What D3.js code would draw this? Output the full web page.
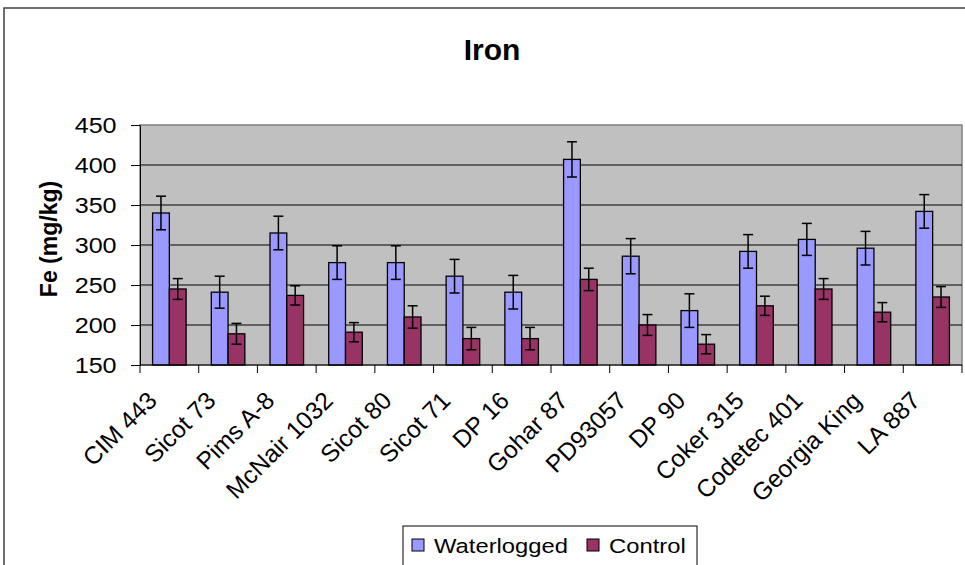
<!DOCTYPE html>
<html>
<head>
<script type='text/javascript' src='https://d3js.org/d3.v7.min.js'></script>
</head>
<body style="margin:0">
<script>
var width = 965, height = 565;

// the data
var cultivars = ["CIM 443", "Sicot 73", "Pims A-8", "McNair 1032", "Sicot 80", "Sicot 71", "DP 16", "Gohar 87", "PD93057", "DP 90", "Coker 315", "Codetec 401", "Georgia King", "LA 887"];
var waterlogged = [340, 241, 315, 278, 278, 261, 241, 407, 286, 218, 292, 307, 296, 342];
var waterloggedErr = [21, 20, 21, 21, 21, 21, 21, 22, 22, 21, 21, 20, 21, 21];
var control = [245, 189, 237, 191, 210, 183, 183, 257, 200, 176, 224, 245, 216, 235];
var controlErr = [13, 13, 12, 12, 14, 14, 14, 14, 13, 12, 12, 13, 12, 13];
var yTicks = [150, 200, 250, 300, 350, 400, 450];
var seriesNames = ["Waterlogged", "Control"];
var colors = ["#9999FF", "#993366"];

var svg = d3.select('body').append('svg').attr('width', width).attr('height', height)
  .style('display', 'block')
  .style('font-family', 'Liberation Sans, Arial, sans-serif');

svg.append('rect').attr('width', width).attr('height', height).attr('fill', 'white');
// outer chart border (runs off the right and bottom)
svg.append('rect').attr('x', 4).attr('y', 8).attr('width', width + 10).attr('height', height + 10)
  .attr('fill', 'none').attr('stroke', '#404040').attr('stroke-width', 1.5);

// plot area edges
var pLeft = 140, pRight = 962, pTop = 125, pBottom = 365;

var x = d3.scaleBand().domain(cultivars).range([pLeft, pRight]).padding(0);
var y = d3.scaleLinear().domain([150, 450]).range([pBottom, pTop]);
var bw = x.step() / 3.5; // excel gap width 150%

// plot area
svg.append('rect').attr('x', pLeft).attr('y', pTop).attr('width', pRight - pLeft).attr('height', pBottom - pTop)
  .attr('fill', '#C0C0C0').attr('stroke', '#808080').attr('stroke-width', 1.5);

// gridlines
svg.append('g').selectAll('line').data(yTicks.filter(function(d) { return d > 150 && d < 450; }))
  .join('line')
  .attr('x1', pLeft).attr('x2', pRight)
  .attr('y1', function(d) { return y(d); }).attr('y2', function(d) { return y(d); })
  .attr('stroke', 'black').attr('stroke-width', 1);

// bars + error bars
var series = [
  {name: seriesNames[0], vals: waterlogged, err: waterloggedErr, color: colors[0], off: 0},
  {name: seriesNames[1], vals: control, err: controlErr, color: colors[1], off: 1}
];
series.forEach(function(s) {
  var g = svg.append('g');
  var bx = function(d, i) { return x(cultivars[i]) + 0.75 * bw + s.off * bw; };
  g.selectAll('rect').data(s.vals).join('rect')
    .attr('x', bx)
    .attr('y', function(d) { return y(d); })
    .attr('width', bw)
    .attr('height', function(d) { return pBottom - y(d); })
    .attr('fill', s.color).attr('stroke', 'black').attr('stroke-width', 1.3);
  var eg = g.selectAll('g.err').data(s.vals).join('g').attr('class', 'err');
  eg.append('line')
    .attr('x1', function(d, i) { return bx(d, i) + bw / 2; })
    .attr('x2', function(d, i) { return bx(d, i) + bw / 2; })
    .attr('y1', function(d, i) { return y(d + s.err[i]); })
    .attr('y2', function(d, i) { return y(d - s.err[i]); });
  [1, -1].forEach(function(sign) {
    eg.append('line')
      .attr('x1', function(d, i) { return bx(d, i) + bw / 2 - 5; })
      .attr('x2', function(d, i) { return bx(d, i) + bw / 2 + 5; })
      .attr('y1', function(d, i) { return y(d + sign * s.err[i]); })
      .attr('y2', function(d, i) { return y(d + sign * s.err[i]); });
  });
  eg.selectAll('line').attr('stroke', 'black').attr('stroke-width', 1.5);
});

// y axis
var yAxis = svg.append('g').attr('transform', 'translate(' + pLeft + ',0)')
  .call(d3.axisLeft(y).tickValues(yTicks).tickSize(9).tickPadding(11).tickSizeOuter(0));
yAxis.select('.domain').attr('stroke', 'black');
yAxis.selectAll('.tick line').attr('stroke', 'black');
yAxis.selectAll('text').attr('font-size', 21.5).attr('font-family', 'Liberation Sans, Arial, sans-serif')
  .attr('fill', 'black').attr('dy', '0.36em')
  .attr('transform', 'translate(-20,0) scale(1.17,1) translate(' + (20 / 1.17) + ',0)');

// x axis, ticks between categories
var xg = svg.append('g');
xg.append('line').attr('x1', pLeft).attr('x2', pRight).attr('y1', pBottom).attr('y2', pBottom)
  .attr('stroke', 'black').attr('stroke-width', 1);
xg.selectAll('line.tk').data(d3.range(cultivars.length + 1)).join('line').attr('class', 'tk')
  .attr('x1', function(i) { return pLeft + i * x.step(); })
  .attr('x2', function(i) { return pLeft + i * x.step(); })
  .attr('y1', pBottom).attr('y2', pBottom + 8)
  .attr('stroke', 'black');
xg.selectAll('text').data(cultivars).join('text')
  .attr('transform', function(d) {
    return 'translate(' + (x(d) + x.bandwidth() / 2 - 11) + ',402) rotate(-45)';
  })
  .attr('text-anchor', 'end')
  .attr('font-size', 24.5)
  .text(function(d) { return d; });

// title and y label
svg.append('text').attr('x', 492).attr('y', 60).attr('text-anchor', 'middle')
  .attr('font-size', 30).attr('font-weight', 'bold').text('Iron');
svg.append('text').attr('transform', 'translate(57,239) rotate(-90)').attr('text-anchor', 'middle')
  .attr('font-size', 23).attr('font-weight', 'bold').text('Fe (mg/kg)');

// legend
var lg = svg.append('g');
lg.append('rect').attr('x', 403).attr('y', 526).attr('width', 294).attr('height', 60)
  .attr('fill', 'white').attr('stroke', 'black').attr('stroke-width', 1);
var legX = [412, 587];
seriesNames.forEach(function(n, i) {
  lg.append('rect').attr('x', legX[i]).attr('y', 539).attr('width', 12).attr('height', 12)
    .attr('fill', colors[i]).attr('stroke', 'black').attr('stroke-width', 1);
  lg.append('text').attr('transform', 'translate(' + (legX[i] + 22) + ',553) scale(1.22,1)')
    .attr('font-size', 19.5).text(n);
});
</script>
</body>
</html>
